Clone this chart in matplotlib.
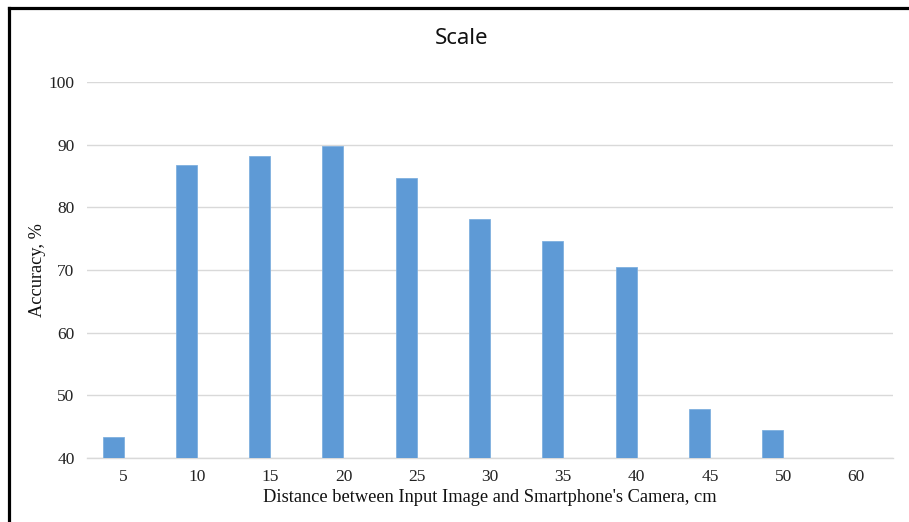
import numpy as np
import matplotlib
matplotlib.use("Agg")
import matplotlib.pyplot as plt
from matplotlib.lines import Line2D

# Accuracy by camera distance
distances = ["5", "10", "15", "20", "25", "30", "35", "40", "45", "50", "60"]
accuracy = [43.4, 86.7, 88.2, 89.8, 84.7, 78.1, 74.6, 70.5, 47.8, 44.5, np.nan]
y_ticks = [40, 50, 60, 70, 80, 90, 100]

W, H = 909, 522
fig = plt.figure(figsize=(W / 100, H / 100), dpi=100)
ax = fig.add_axes([87 / W, 1 - 458 / H, (893 - 87) / W, (458 - 82) / H])

bar_color = "#5E9AD6"
bar_w = 0.286
x = np.arange(len(distances))
ax.bar(x - bar_w, accuracy, width=bar_w, align="edge", color=bar_color,
       edgecolor="#7FB0DF", linewidth=0.6, zorder=3)

ax.set_xlim(-0.5, len(distances) - 0.5)
ax.set_ylim(40, 100)
ax.set_yticks(y_ticks)
ax.set_xticks(x)
ax.set_xticklabels(distances)

serif = "Liberation Serif"
for lbl in ax.get_xticklabels() + ax.get_yticklabels():
    lbl.set_fontfamily(serif)
    lbl.set_fontsize(12.5)
    lbl.set_color("#222222")
ax.tick_params(axis="both", length=0)
ax.tick_params(axis="y", pad=9)
ax.tick_params(axis="x", pad=8)

ax.grid(axis="y", color="#D9D9D9", linewidth=1.0, zorder=0)
ax.set_axisbelow(True)
for side in ["top", "right", "left"]:
    ax.spines[side].set_visible(False)
ax.spines["bottom"].set_color("#D9D9D9")
ax.spines["bottom"].set_linewidth(1.0)

ax.set_xlabel("Distance between Input Image and Smartphone's Camera, cm",
              fontfamily=serif, fontsize=13.2, color="#111111", labelpad=3)
ax.set_ylabel("Accuracy, %", fontfamily=serif, fontsize=13.2,
              color="#111111", labelpad=2)

fig.text(462 / W, 1 - 38.5 / H, "Scale", ha="center", va="center",
         fontfamily="Noto Sans", fontsize=16, color="#111111")

# Frame lines along the top and left edges
fig.add_artist(Line2D([9 / W, 1.0], [1 - 8 / H, 1 - 8 / H],
                      transform=fig.transFigure, color="black", linewidth=2.3))
fig.add_artist(Line2D([9 / W, 9 / W], [0.0, 1 - 8 / H],
                      transform=fig.transFigure, color="black", linewidth=2.3))

fig.savefig("out.png", dpi=100, facecolor="white")
